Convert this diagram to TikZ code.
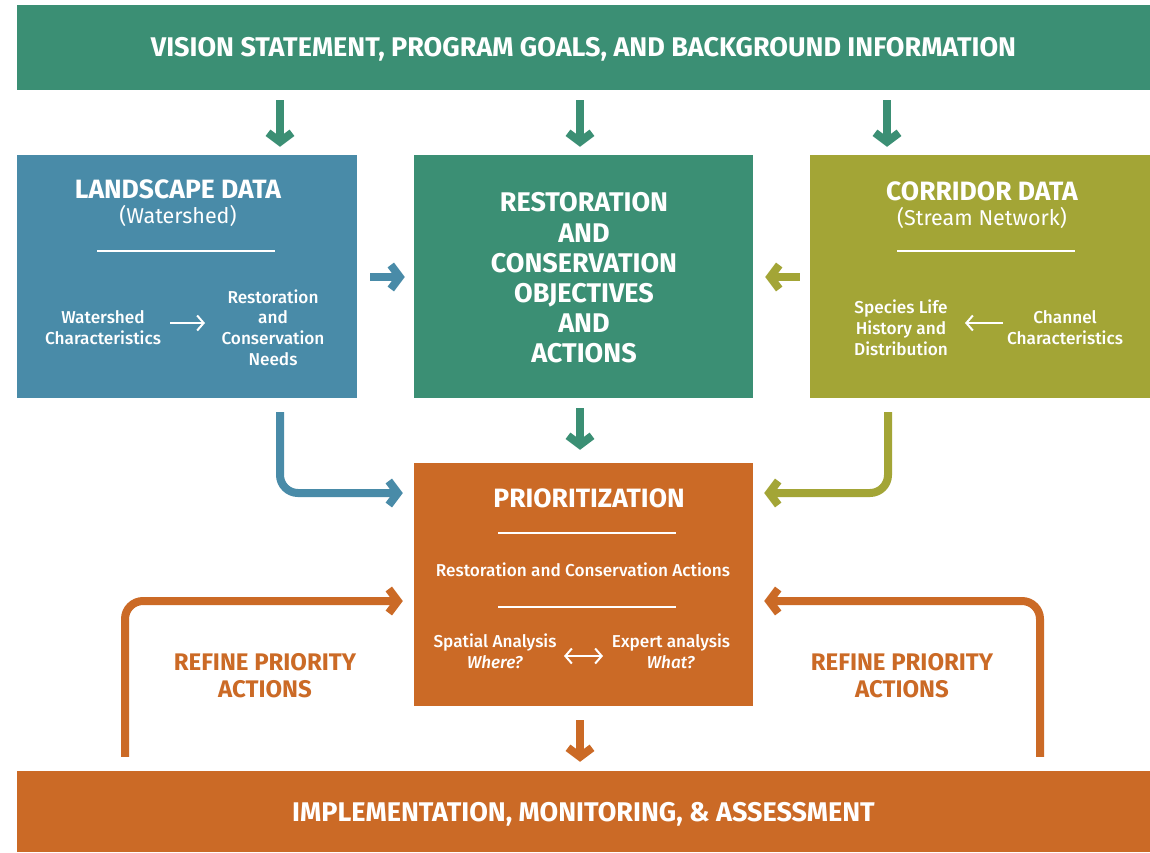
\documentclass[tikz,border=0pt]{standalone}
\usepackage{fontspec}
\setmainfont{Fira Sans}
\newfontfamily\medfont{Fira Sans}[UprightFont=* Medium, ItalicFont=* Medium Italic]
\usetikzlibrary{arrows.meta}
\definecolor{cgreen}{RGB}{59,143,116}
\definecolor{cblue}{RGB}{73,139,168}
\definecolor{colive}{RGB}{163,165,54}
\definecolor{corange}{RGB}{203,106,38}
\tikzset{
  panel/.style={fill=#1, draw=none, inner sep=0pt},
  bigarrow/.style={draw=#1, line width=8pt, -{Straight Barb[length=9pt,width=24pt]}},
  bentarrow/.style={bigarrow=#1, rounded corners=18pt},
  thinarrow/.style={draw=white, line width=2pt, -{Straight Barb[length=6.5pt,width=15pt]}},
  thinboth/.style={draw=white, line width=2pt, {Straight Barb[length=6.5pt,width=15pt]}-{Straight Barb[length=6.5pt,width=15pt]}},
  whiterule/.style={draw=white, line width=2pt},
  bartext/.style={text=white, font=\bfseries\fontsize{27}{32}\selectfont, inner sep=0pt},
  boxtitle/.style={text=white, font=\bfseries\fontsize{26.5}{30}\selectfont, align=center, inner sep=0pt},
  boxsub/.style={text=white, font=\fontsize{21.5}{25}\selectfont, align=center, inner sep=0pt},
  bigtitle/.style={text=white, font=\bfseries\fontsize{27}{30.2}\selectfont, align=center, inner sep=0pt},
  smalltext/.style={text=white, font=\medfont\fontsize{17.2}{20.8}\selectfont, align=center, inner sep=0pt},
  refine/.style={text=corange, font=\bfseries\fontsize{24}{27}\selectfont, align=center, inner sep=0pt},
}
\begin{document}
\begin{tikzpicture}[x=1pt,y=-1pt]
\useasboundingbox[fill=white] (0,0) rectangle (1150,852);

% panels
\node[panel=cgreen, minimum width=1133pt, minimum height=85pt] (top) at (583.5,47.5) {};
\node[panel=cblue, minimum width=340pt, minimum height=243pt] (land) at (187,276.5) {};
\node[panel=cgreen, minimum width=339pt, minimum height=243pt] (rest) at (583.5,276.5) {};
\node[panel=colive, minimum width=340pt, minimum height=243pt] (corr) at (980,276.5) {};
\node[panel=corange, minimum width=339pt, minimum height=243pt] (prio) at (583.5,584.5) {};
\node[panel=corange, minimum width=1133pt, minimum height=81pt] (bot) at (583.5,811.5) {};

% bar texts
\node[bartext] (topT) at (583.5,49.5) {VISION STATEMENT, PROGRAM GOALS, AND BACKGROUND INFORMATION};
\node[bartext] (botT) at (583.5,814) {IMPLEMENTATION, MONITORING, \& ASSESSMENT};

% landscape
\node[boxtitle] (landT) at (178,189) {LANDSCAPE DATA};
\node[boxsub] (landS) at (178,216) {(Watershed)};
\draw[whiterule] (97,251) -- (275,251);
\node[smalltext] (ws) at (103,327.5) {Watershed\\Characteristics};
\node[smalltext] (rcn) at (273,327.5) {Restoration\\and\\Conservation\\Needs};
\coordinate (la) at (0,323);
\draw[thinarrow] (170,0 |- la) -- (205,0 |- la);

% restoration
\node[bigtitle] (restT) at (584,278) {RESTORATION\\AND\\CONSERVATION\\OBJECTIVES\\AND\\ACTIONS};

% corridor
\node[boxtitle] (corrT) at (982,191) {CORRIDOR DATA};
\node[boxsub] (corrS) at (982,218) {(Stream Network)};
\draw[whiterule] (897,251) -- (1075,251);
\node[smalltext] (spec) at (901,327.5) {Species Life\\History and\\Distribution};
\node[smalltext] (chan) at (1065,327.5) {Channel\\Characteristics};
\draw[thinarrow] (1003,323) -- (965,323);

% prioritization
\node[boxtitle] (prioT) at (589,498) {PRIORITIZATION};
\draw[whiterule] (498,533) -- (676,533);
\node[smalltext] (rca) at (583,570) {Restoration and Conservation Actions};
\draw[whiterule] (498,607) -- (676,607);
\node[smalltext] (spa) at (495,651.5) {Spatial Analysis\\\textit{Where?}};
\node[smalltext] (exp) at (671,651.5) {Expert analysis\\\textit{What?}};
\draw[thinboth] (564,656) -- (603,656);

% refine labels
\node[refine] (refL) at (265,676) {REFINE PRIORITY\\ACTIONS};
\node[refine] (refR) at (902,676) {REFINE PRIORITY\\ACTIONS};

% connectors
\coordinate (c1) at (280,0);
\coordinate (c2) at (580,0);
\coordinate (c3) at (887,0);
\coordinate (c4) at (888,0);
\coordinate (mid) at (0,277);
\coordinate (low) at (0,493);
\coordinate (loop) at (0,601);
\coordinate (cl) at (125,0);
\coordinate (cr) at (1040,0);

\draw[bigarrow=cgreen, shorten <=10pt, shorten >=8pt] (top.south -| c1) -- (land.north -| c1);
\draw[bigarrow=cgreen, shorten <=10pt, shorten >=8pt] (top.south -| c2) -- (rest.north -| c2);
\draw[bigarrow=cgreen, shorten <=10pt, shorten >=8pt] (top.south -| c3) -- (corr.north -| c3);

\draw[bigarrow=cblue, shorten <=13pt, shorten >=9pt] (land.east |- mid) -- (rest.west |- mid);
\draw[bigarrow=colive, shorten <=10pt, shorten >=12pt] (corr.west |- mid) -- (rest.east |- mid);

\draw[bigarrow=cgreen, shorten <=10pt, shorten >=13pt] (rest.south -| c2) -- (prio.north -| c2);
\draw[bigarrow=corange, shorten <=14pt, shorten >=9pt] (prio.south -| c2) -- (bot.north -| c2);

\draw[bentarrow=cblue, shorten <=14pt, shorten >=11pt] (land.south -| c1) |- (prio.west |- low);
\draw[bentarrow=colive, shorten <=14pt, shorten >=11pt] (corr.south -| c4) |- (prio.east |- low);

\draw[bentarrow=corange, shorten <=14pt, shorten >=11pt] (bot.north -| cl) |- (prio.west |- loop);
\draw[bentarrow=corange, shorten <=14pt, shorten >=11pt] (bot.north -| cr) |- (prio.east |- loop);
\end{tikzpicture}
\end{document}
